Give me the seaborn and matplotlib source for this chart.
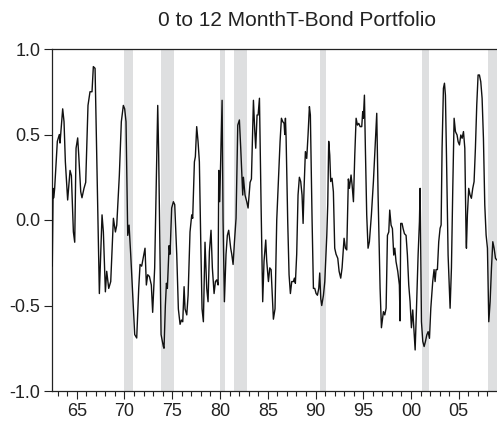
import matplotlib
matplotlib.use("Agg")
import matplotlib.pyplot as plt
from matplotlib.ticker import FixedLocator
import seaborn as sns
import pandas as pd

# ---- data ----
years = [
    1962.44, 1962.53, 1962.60, 1962.69, 1962.97, 1963.18, 1963.25, 1963.53, 1963.67, 1963.81,
    1964.05, 1964.30, 1964.44, 1964.65, 1964.79, 1964.93, 1965.10, 1965.21, 1965.42, 1965.55,
    1965.76, 1965.94, 1966.18, 1966.39, 1966.60, 1966.74, 1966.92, 1967.37, 1967.65, 1967.79,
    1968.00, 1968.14, 1968.35, 1968.56, 1968.84, 1969.05, 1969.19, 1969.46, 1969.67, 1969.88,
    1970.02, 1970.16, 1970.34, 1970.48, 1970.65, 1970.86, 1971.07, 1971.28, 1971.49, 1971.63,
    1971.80, 1972.15, 1972.29, 1972.43, 1972.61, 1972.81, 1972.95, 1973.16, 1973.48, 1973.58,
    1973.83, 1974.07, 1974.14, 1974.28, 1974.39, 1974.49, 1974.67, 1974.77, 1974.94, 1975.12,
    1975.26, 1975.47, 1975.64, 1975.82, 1975.96, 1976.10, 1976.24, 1976.34, 1976.52, 1976.66,
    1976.86, 1977.04, 1977.14, 1977.32, 1977.42, 1977.56, 1977.70, 1977.84, 1977.98, 1978.12,
    1978.26, 1978.43, 1978.61, 1978.75, 1978.89, 1979.06, 1979.20, 1979.38, 1979.52, 1979.66,
    1979.80, 1979.87, 1979.97, 1980.22, 1980.32, 1980.46, 1980.63, 1980.77, 1980.91, 1981.12,
    1981.23, 1981.37, 1981.51, 1981.68, 1981.86, 1982.03, 1982.17, 1982.38, 1982.45, 1982.62,
    1982.80, 1982.94, 1983.15, 1983.29, 1983.50, 1983.64, 1983.74, 1983.88, 1983.99, 1984.13,
    1984.30, 1984.47, 1984.61, 1984.79, 1984.89, 1985.07, 1985.21, 1985.35, 1985.59, 1985.76,
    1985.94, 1986.08, 1986.29, 1986.43, 1986.57, 1986.71, 1986.78, 1986.85, 1986.92, 1987.09,
    1987.23, 1987.37, 1987.51, 1987.68, 1987.79, 1987.89, 1988.03, 1988.17, 1988.31, 1988.45,
    1988.59, 1988.70, 1988.80, 1988.94, 1989.08, 1989.22, 1989.36, 1989.46, 1989.64, 1989.78,
    1989.92, 1990.06, 1990.20, 1990.34, 1990.44, 1990.55, 1990.65, 1990.83, 1990.97, 1991.18,
    1991.28, 1991.38, 1991.49, 1991.59, 1991.73, 1991.87, 1992.01, 1992.15, 1992.33, 1992.47,
    1992.64, 1992.78, 1992.99, 1993.13, 1993.27, 1993.44, 1993.55, 1993.72, 1993.83, 1993.97,
    1994.11, 1994.25, 1994.39, 1994.53, 1994.67, 1994.84, 1994.94, 1995.01, 1995.12, 1995.22,
    1995.36, 1995.50, 1995.64, 1995.85, 1996.06, 1996.27, 1996.41, 1996.55, 1996.76, 1996.90,
    1997.11, 1997.25, 1997.39, 1997.53, 1997.67, 1997.77, 1997.91, 1998.05, 1998.19, 1998.30,
    1998.43, 1998.61, 1998.78, 1998.85, 1998.92, 1999.06, 1999.17, 1999.31, 1999.48, 1999.62,
    1999.76, 1999.90, 2000.04, 2000.18, 2000.32, 2000.43, 2000.56, 2000.74, 2000.88, 2000.95,
    2001.02, 2001.09, 2001.23, 2001.37, 2001.51, 2001.65, 2001.79, 2001.93, 2002.07, 2002.27,
    2002.41, 2002.52, 2002.62, 2002.76, 2002.90, 2003.04, 2003.15, 2003.25, 2003.39, 2003.50,
    2003.60, 2003.71, 2003.88, 2004.09, 2004.23, 2004.37, 2004.51, 2004.65, 2004.82, 2004.93,
    2005.07, 2005.21, 2005.35, 2005.49, 2005.63, 2005.77, 2005.80, 2005.90, 2006.04, 2006.18,
    2006.32, 2006.46, 2006.60, 2006.74, 2006.88, 2007.02, 2007.16, 2007.30, 2007.44, 2007.58,
    2007.72, 2007.86, 2008.00, 2008.14, 2008.28, 2008.42, 2008.56, 2008.70, 2008.84, 2008.98,
]
values = [
    -0.27, 0.185, 0.13, 0.185, 0.46, 0.50, 0.45, 0.65, 0.575, 0.34,
    0.117, 0.29, 0.26, -0.07, -0.13, 0.42, 0.48, 0.38, 0.165, 0.13,
    0.185, 0.22, 0.67, 0.75, 0.75, 0.897, 0.887, -0.43, 0.03, -0.07,
    -0.42, -0.30, -0.40, -0.36, 0.01, -0.07, -0.03, 0.26, 0.575, 0.67,
    0.65, 0.575, -0.09, -0.03, -0.20, -0.44, -0.67, -0.69, -0.40, -0.26,
    -0.27, -0.165, -0.38, -0.32, -0.33, -0.38, -0.54, -0.28, 0.67, 0.38,
    -0.67, -0.74, -0.75, -0.50, -0.37, -0.40, -0.15, -0.20, 0.07, 0.107,
    0.09, -0.20, -0.52, -0.61, -0.585, -0.595, -0.39, -0.52, -0.555, -0.44,
    -0.07, 0.03, 0.01, 0.34, 0.37, 0.546, 0.46, 0.34, -0.11, -0.52,
    -0.595, -0.13, -0.40, -0.478, -0.185, -0.06, -0.28, -0.43, -0.36, -0.35,
    -0.38, 0.29, 0.107, 0.70, 0.0, -0.478, -0.20, -0.09, -0.06, -0.165,
    -0.20, -0.26, -0.13, 0.01, 0.555, 0.585, 0.42, 0.146, 0.25, 0.146,
    0.107, 0.07, 0.22, 0.24, 0.70, 0.52, 0.42, 0.614, 0.614, 0.712,
    0.09, -0.478, -0.24, -0.117, -0.24, -0.36, -0.28, -0.29, -0.58, -0.52,
    0.0, 0.185, 0.46, 0.595, 0.575, 0.565, 0.50, 0.595, 0.48, -0.01,
    -0.32, -0.43, -0.36, -0.36, -0.34, -0.37, -0.20, 0.146, 0.25, 0.225,
    0.146, -0.02, 0.185, 0.40, 0.36, 0.50, 0.663, 0.614, 0.0, -0.40,
    -0.40, -0.43, -0.44, -0.40, -0.31, -0.46, -0.50, -0.44, -0.36, -0.09,
    0.09, 0.46, 0.38, 0.225, 0.244, 0.165, -0.165, -0.20, -0.224, -0.30,
    -0.34, -0.28, -0.107, -0.165, -0.175, 0.24, 0.185, 0.263, 0.205, 0.107,
    0.38, 0.595, 0.555, 0.565, 0.546, 0.546, 0.634, 0.595, 0.73, 0.42,
    0.03, -0.165, -0.127, 0.03, 0.224, 0.46, 0.624, 0.146, -0.40, -0.63,
    -0.536, -0.555, -0.516, -0.09, -0.07, 0.058, -0.03, -0.05, -0.205, -0.165,
    -0.244, -0.30, -0.38, -0.59, -0.02, -0.02, -0.05, -0.08, -0.09, -0.205,
    -0.38, -0.478, -0.63, -0.526, -0.653, -0.76, -0.536, -0.205, -0.01, 0.185,
    -0.24, -0.595, -0.71, -0.74, -0.71, -0.672, -0.653, -0.692, -0.516, -0.36,
    -0.29, -0.36, -0.29, -0.29, -0.127, -0.049, -0.029, 0.42, 0.77, 0.80,
    0.73, 0.38, -0.205, -0.516, -0.28, 0.185, 0.595, 0.517, 0.497, 0.458,
    0.439, 0.497, 0.478, 0.517, 0.42, -0.127, -0.165, 0.03, 0.185, 0.146,
    0.127, 0.185, 0.224, 0.42, 0.672, 0.848, 0.848, 0.809, 0.712, 0.478,
    0.088, -0.088, -0.165, -0.595, -0.478, -0.283, -0.127, -0.166, -0.224, -0.234,
]

recession_start = [1969.95, 1973.85, 1980.00, 1981.50, 1990.52, 2001.20, 2008.06]
recession_end = [1970.92, 1975.18, 1980.52, 1982.86, 1991.14, 2001.83, 2009.60]

major_ticks = [1965, 1970, 1975, 1980, 1985, 1990, 1995, 2000, 2005]
major_labels = ["65", "70", "75", "80", "85", "90", "95", "00", "05"]
minor_ticks = list(range(1963, 2009))
y_ticks = [-1.0, -0.5, 0.0, 0.5, 1.0]
y_labels = ["-1.0", "-0.5", "0.0", "0.5", "1.0"]
title = "0 to 12 MonthT-Bond Portfolio"

# ---- plotting ----
sns.set_style("ticks")
plt.rcParams["font.family"] = ["Liberation Sans", "DejaVu Sans"]

W, H = 497, 421
fig = plt.figure(figsize=(W / 100, H / 100), dpi=100)
left, right, top, bottom = 51.7, 497.0, 49.0, 391.0
ax = fig.add_axes([left / W, 1 - bottom / H, (right - left) / W, (bottom - top) / H])

for s, e in zip(recession_start, recession_end):
    ax.axvspan(s, e, color="#dedfe0", lw=0, zorder=0)

df = pd.DataFrame({"year": years, "value": values})
sns.lineplot(data=df, x="year", y="value", ax=ax, color="#111111",
             linewidth=1.0, estimator=None, sort=False, zorder=3)

ax.set_xlim(1962.38, 2009.0)
ax.set_ylim(-1.0, 1.0)
ax.set_xlabel("")
ax.set_ylabel("")

ax.xaxis.set_major_locator(FixedLocator(major_ticks))
ax.set_xticklabels(major_labels)
ax.xaxis.set_minor_locator(FixedLocator(minor_ticks))
ax.set_yticks(y_ticks)
ax.set_yticklabels(y_labels)

ax.tick_params(axis="x", which="major", direction="out", length=6, width=0.8,
               labelsize=13, pad=3, colors="#222222")
ax.tick_params(axis="x", which="minor", direction="out", length=3.5, width=0.8,
               colors="#222222")
ax.tick_params(axis="y", which="major", direction="out", length=6, width=0.8,
               labelsize=13, pad=2, colors="#222222")
for lbl in ax.get_xticklabels() + ax.get_yticklabels():
    lbl.set_color("#222222")

for side in ["left", "top", "bottom"]:
    ax.spines[side].set_visible(True)
    ax.spines[side].set_linewidth(0.9)
    ax.spines[side].set_color("#222222")
ax.spines["right"].set_visible(False)

fig.text(297.5 / W, 1 - 21.0 / H, title, ha="center", va="center",
         fontsize=15, color="#222222")

fig.savefig("out.png", dpi=100)
